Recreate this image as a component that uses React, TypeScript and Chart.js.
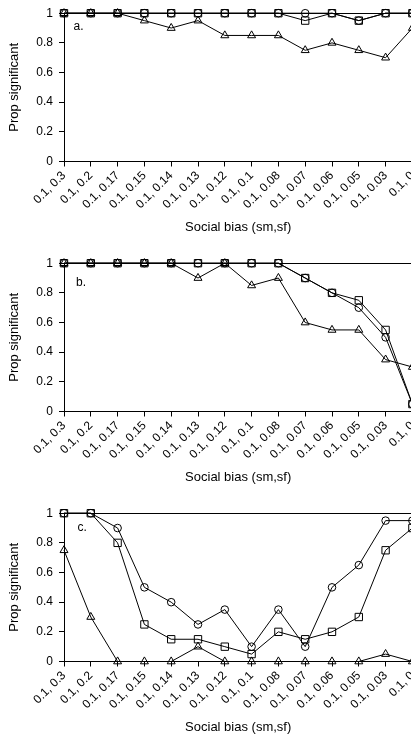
import React, { useEffect, useRef } from "react";
import { Chart, registerables } from "chart.js";

Chart.register(...registerables);

const categories = [
  "0.1, 0.3", "0.1, 0.2", "0.1, 0.17", "0.1, 0.15", "0.1, 0.14", "0.1, 0.13", "0.1, 0.12",
  "0.1, 0.1", "0.1, 0.08", "0.1, 0.07", "0.1, 0.06", "0.1, 0.05", "0.1, 0.03", "0.1, 0",
];

const yTickLabels = ["0", "0.2", "0.4", "0.6", "0.8", "1"];

const circleA = [1, 1, 1, 1, 1, 1, 1, 1, 1, 1, 1, 0.95, 1, 1];
const squareA = [1, 1, 1, 1, 1, 1, 1, 1, 1, 0.95, 1, 0.95, 1, 1];
const triangleA = [1, 1, 1, 0.95, 0.9, 0.95, 0.85, 0.85, 0.85, 0.75, 0.8, 0.75, 0.7, 0.9];

const circleB = [1, 1, 1, 1, 1, 1, 1, 1, 1, 0.9, 0.8, 0.7, 0.5, 0.05];
const squareB = [1, 1, 1, 1, 1, 1, 1, 1, 1, 0.9, 0.8, 0.75, 0.55, 0.05];
const triangleB = [1, 1, 1, 1, 1, 0.9, 1, 0.85, 0.9, 0.6, 0.55, 0.55, 0.35, 0.3];

const circleC = [1, 1, 0.9, 0.5, 0.4, 0.25, 0.35, 0.1, 0.35, 0.1, 0.5, 0.65, 0.95, 0.95];
const squareC = [1, 1, 0.8, 0.25, 0.15, 0.15, 0.1, 0.05, 0.2, 0.15, 0.2, 0.3, 0.75, 0.9];
const triangleC = [0.75, 0.3, 0, 0, 0, 0.1, 0, 0, 0, 0, 0, 0, 0.05, 0];

const xTitle = "Social bias (sm,sf)";
const yTitle = "Prop significant";

const FONT = "'Liberation Sans', Arial, sans-serif";

type PanelProps = {
  circle: number[];
  square: number[];
  triangle: number[];
  letter: string;
  top: number;
  labelDx: number;
  labelDy: number;
};

function Panel({ circle, square, triangle, letter, top, labelDx, labelDy }: PanelProps) {
  const ref = useRef<HTMLCanvasElement>(null);

  useEffect(() => {
    if (!ref.current) return;
    const mk = (data: number[], style: string, radius: number) => ({
      data,
      pointStyle: style,
      borderColor: "#000",
      borderWidth: 1,
      pointRadius: radius,
      pointBorderColor: "#000",
      pointBackgroundColor: "rgba(0,0,0,0)",
      pointBorderWidth: 1,
      fill: false,
      tension: 0,
      clip: false as any,
    });
    const letterPlugin = {
      id: "panelLetter",
      afterDatasetsDraw(chart: any) {
        const { ctx, chartArea } = chart;
        ctx.save();
        ctx.font = `12px ${FONT}`;
        ctx.fillStyle = "#000";
        ctx.textAlign = "left";
        ctx.textBaseline = "alphabetic";
        ctx.fillText(letter, chartArea.left + labelDx, chartArea.top + labelDy);
        ctx.restore();
      },
    };
    const chart = new Chart(ref.current, {
      type: "line",
      data: {
        labels: categories,
        datasets: [
          mk(circle, "circle", 3.8),
          mk(square, "rect", 5.2),
          mk(triangle, "triangle", 4.6),
        ] as any,
      },
      options: {
        responsive: false,
        animation: false,
        devicePixelRatio: 1,
        layout: { padding: { top: 12.5, right: 17.6, left: 0, bottom: 0 } },
        plugins: { legend: { display: false }, tooltip: { enabled: false } },
        scales: {
          x: {
            type: "category",
            offset: false,
            grid: {
              display: true,
              drawOnChartArea: false,
              drawTicks: true,
              tickLength: 5,
              tickColor: "#000",
            },
            border: { display: true, color: "#000", width: 1 },
            ticks: {
              autoSkip: false,
              minRotation: 45,
              maxRotation: 45,
              padding: 2,
              color: "#000",
              font: { family: FONT, size: 12 },
            },
            title: {
              display: true,
              text: xTitle,
              color: "#000",
              font: { family: FONT, size: 13 },
              padding: { top: 4, bottom: 15 },
            },
            afterFit: (s: any) => {
              s.height = 88.5;
            },
          },
          y: {
            min: 0,
            max: 1,
            ticks: {
              stepSize: 0.2,
              padding: 6,
              color: "#000",
              font: { family: FONT, size: 12 },
              callback: (_v: any, i: number) => yTickLabels[i],
            },
            grid: {
              color: (c: any) => (c.tick && Math.abs(c.tick.value - 1) < 1e-9 ? "#000" : "rgba(0,0,0,0)"),
              tickColor: "#000",
              tickLength: 5,
              drawTicks: true,
            },
            border: { display: true, color: "#000", width: 1 },
            title: {
              display: true,
              text: yTitle,
              color: "#000",
              font: { family: FONT, size: 13 },
              padding: { top: 7, bottom: 0 },
            },
            afterFit: (s: any) => {
              s.width = 64;
            },
          },
        },
      } as any,
      plugins: [letterPlugin],
    });
    return () => chart.destroy();
  }, []);

  return (
    <div style={{ position: "absolute", left: 0, top, width: 430, height: 250 }}>
      <canvas ref={ref} width={430} height={250} style={{ display: "block", width: 430, height: 250 }} />
    </div>
  );
}

export default function App() {
  return (
    <div
      style={{
        position: "fixed",
        left: 0,
        top: 0,
        width: 411,
        height: 737,
        overflow: "hidden",
        background: "#fff",
      }}
    >
      <Panel circle={circleA} square={squareA} triangle={triangleA} letter="a." top={0} labelDx={9.5} labelDy={16.5} />
      <Panel circle={circleB} square={squareB} triangle={triangleB} letter="b." top={250} labelDx={12} labelDy={23} />
      <Panel circle={circleC} square={squareC} triangle={triangleC} letter="c." top={500} labelDx={13.5} labelDy={18} />
    </div>
  );
}
